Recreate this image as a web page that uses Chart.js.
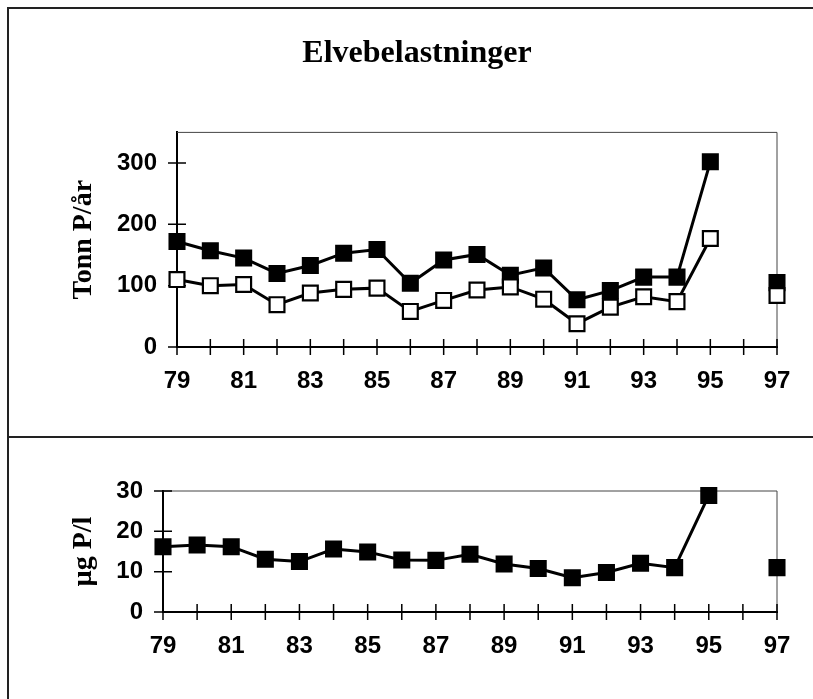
<!DOCTYPE html>
<html>
<head>
<meta charset="utf-8">
<script src="https://cdn.jsdelivr.net/npm/chart.js@4.4.1/dist/chart.umd.min.js"></script>
<style>
  html, body { margin: 0; padding: 0; background: #fff; }
  body { width: 813px; height: 699px; position: relative; overflow: hidden; }
  #c1 { position: absolute; left: 0; top: 0; }
  #c2 { position: absolute; left: 0; top: 437px; }
  .ln { position: absolute; background: #222; }
</style>
</head>
<body>
<div class="ln" style="left:7px;top:7px;width:806px;height:1.5px"></div>
<div class="ln" style="left:7px;top:7px;width:1.5px;height:692px"></div>
<div class="ln" style="left:7px;top:436px;width:806px;height:1.5px"></div>
<canvas id="c1" width="813" height="437"></canvas>
<canvas id="c2" width="813" height="262"></canvas>
<script>
// ---- data ----
const years = ['79','80','81','82','83','84','85','86','87','88','89','90','91','92','93','94','95','96','97'];
const xTickLabels = ['79','81','83','85','87','89','91','93','95','97'];
const loadTotal = [172,157,145,120,133,153,159,104,142,151,117,129,77,92,114,114,302,null,105];
const loadOpen  = [110,100,102,69,88,94,96,58,76,93,98,78,38,65,82,74,177,null,84];
const conc      = [16.2,16.6,16.2,13.1,12.5,15.6,14.9,12.9,12.8,14.3,11.9,10.8,8.5,9.8,12.1,11.0,28.9,null,11.0];
const yTicksTop = [0,100,200,300];
const yTicksBottom = [0,10,20,30];
const titleText = 'Elvebelastninger';
const yTitleTop = 'Tonn P/år';
const yTitleBottom = 'µg P/l';

const frame = {
  id: 'frame',
  beforeDatasetsDraw(chart) {
    const {ctx, chartArea: a, scales: {x, y}} = chart;
    ctx.save();
    ctx.strokeStyle = '#444';
    ctx.lineWidth = 1;
    ctx.beginPath();
    ctx.moveTo(a.left, a.top); ctx.lineTo(a.right, a.top); ctx.lineTo(a.right, a.bottom);
    ctx.stroke();
    ctx.strokeStyle = '#000';
    ctx.lineWidth = 1.5;
    ctx.beginPath();
    x.ticks.forEach((t, i) => {
      const px = x.getPixelForTick(i);
      ctx.moveTo(px, a.bottom - 8); ctx.lineTo(px, a.bottom + 8);
    });
    y.ticks.forEach((t, i) => {
      const py = y.getPixelForTick(i);
      ctx.moveTo(a.left - 9, py); ctx.lineTo(a.left + 9, py);
    });
    ctx.stroke();
    ctx.restore();
  }
};

function xScale() {
  return {
    type: 'category',
    offset: false,
    grid: { display: true, drawOnChartArea: false, drawTicks: false },
    border: { display: true, color: '#000', width: 2 },
    ticks: {
      autoSkip: false, maxRotation: 0, minRotation: 0, padding: 20,
      color: '#000',
      font: { family: 'Liberation Sans', size: 24, weight: 'bold' },
      callback: function (v) { const l = this.getLabelForValue(v); return xTickLabels.includes(l) ? l : ''; }
    },
    afterFit: s => { s.height = 60; }
  };
}
function yScale(max, step, tickVals, title, width) {
  return {
    min: 0, max: max,
    grid: { display: true, drawOnChartArea: false, drawTicks: false },
    border: { display: true, color: '#000', width: 2 },
    ticks: {
      stepSize: step, padding: 20, color: '#000',
      font: { family: 'Liberation Sans', size: 24, weight: 'bold' }
    },
    afterBuildTicks: s => { s.ticks = s.ticks.filter(t => tickVals.includes(t.value)); },
    title: {
      display: true, text: title, color: '#000',
      font: { family: 'Liberation Serif', size: 28, weight: 'bold' },
      padding: { top: 10, bottom: 0 }
    },
    afterFit: s => { s.width = width; }
  };
}
function ds(data, fill) {
  return {
    data: data,
    borderColor: '#000',
    borderWidth: 3,
    pointStyle: 'rect',
    pointRadius: 10.5,
    pointHoverRadius: 10.5,
    pointBorderWidth: 2.2,
    pointBorderColor: '#000',
    pointBackgroundColor: fill,
    spanGaps: false,
    tension: 0,
    clip: false
  };
}

new Chart(document.getElementById('c1'), {
  type: 'line',
  data: { labels: years, datasets: [ds(loadOpen, '#fff'), ds(loadTotal, '#000')] },
  options: {
    responsive: false, animation: false,
    layout: { padding: { left: 57, right: 36, top: 0, bottom: 30 } },
    plugins: {
      legend: { display: false }, tooltip: { enabled: false },
      title: {
        display: true, text: titleText, color: '#000',
        font: { family: 'Liberation Serif', size: 32, weight: 'bold' },
        padding: { top: 35, bottom: 59 }
      }
    },
    scales: { x: xScale(), y: yScale(350, 100, yTicksTop, yTitleTop, 120) }
  },
  plugins: [frame]
});

new Chart(document.getElementById('c2'), {
  type: 'line',
  data: { labels: years, datasets: [ds(conc, '#000')] },
  options: {
    responsive: false, animation: false,
    layout: { padding: { left: 57, right: 36, top: 54, bottom: 27 } },
    plugins: { legend: { display: false }, tooltip: { enabled: false } },
    scales: { x: xScale(), y: yScale(30, 10, yTicksBottom, yTitleBottom, 106) }
  },
  plugins: [frame]
});
</script>
</body>
</html>
